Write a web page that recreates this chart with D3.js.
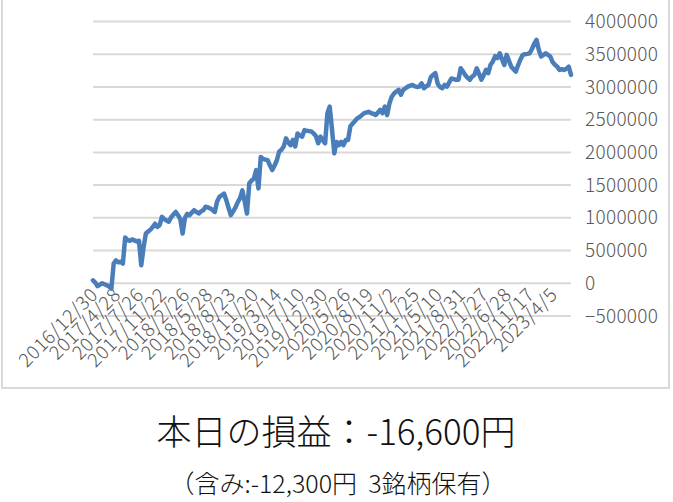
<!DOCTYPE html>
<html><head><meta charset="utf-8">
<script src="https://cdn.jsdelivr.net/npm/d3@7"></script>
<style>
html,body{margin:0;padding:0;background:#fff;}
svg text{font-family:"Noto Sans CJK JP","Noto Sans",sans-serif;white-space:pre;}
</style></head>
<body>
<svg id="c" width="673" height="502"></svg>
<script>
// Cumulative profit (sampled every ~8 trading days), in thousands of yen
const valuesK = [45,10,-45,-20,0,-15,-30,-50,-80,300,350,320,330,300,700,660,650,670,655,
640,650,275,550,760,790,820,860,910,860,890,1015,980,960,940,1010,1050,1090,1040,
980,760,1000,1060,1040,1080,1117,1090,1066,1100,1117,1170,1160,1143,1120,1090,1250,1320,1345,
1370,1270,1150,1040,1100,1160,1240,1300,1420,1250,1066,1525,1570,1600,1730,1450,1930,1900,1890,
1880,1800,1730,1800,1880,2010,2040,2090,2215,2150,2110,2190,2090,2290,2260,2240,2340,2330,2325,
2320,2290,2250,2140,2240,2180,2140,2600,2700,2350,1985,2160,2110,2160,2110,2190,2190,2400,2440,
2480,2520,2540,2570,2600,2610,2620,2600,2590,2570,2610,2650,2600,2700,2570,2750,2850,2900,2930,
2955,2880,2955,2980,3005,3020,3030,3010,3000,3005,3055,2980,3010,3030,3150,3185,3210,3050,3000,
2980,3030,3005,3070,3130,3120,3110,3110,3285,3235,3180,3140,3110,3160,3185,3285,3200,3110,3180,
3260,3210,3340,3390,3470,3440,3515,3420,3335,3490,3400,3310,3270,3235,3335,3420,3490,3500,3505,
3515,3580,3660,3720,3565,3465,3490,3515,3490,3465,3380,3340,
3310,3260,3270,3260,3280,3310,3185];
const values = valuesK.map(v => v * 1000);
const tickLabels = ["2016/12/30","2017/4/28","2017/7/26","2017/11/22","2018/2/26","2018/5/28","2018/8/23","2018/11/20","2019/3/14","2019/7/10","2019/12/30","2020/5/26","2020/8/19","2020/11/2","2021/1/25","2021/5/10","2021/8/31","2022/1/27","2022/6/28","2022/11/17","2023/4/5"];
const tickEvery = 10;
const yTicks = [-500000,0,500000,1000000,1500000,2000000,2500000,3000000,3500000,4000000];
const title = "本日の損益：-16,600円";
const subtitle = "（含み:-12,300円  3銘柄保有）";

const svg = d3.select("#c");
// frame
svg.append("rect").attr("x",2).attr("y",-2).attr("width",667).attr("height",390)
  .attr("fill","none").attr("stroke","#d9d9d9").attr("stroke-width",2);

const x = d3.scaleLinear().domain([0, values.length-1]).range([93, 571]);
const y = d3.scaleLinear().domain([-500000, 4000000]).range([316, 21.5]);

// gridlines
svg.append("g").selectAll("line").data(yTicks).join("line")
  .attr("x1",93).attr("x2",571).attr("y1",d=>y(d)).attr("y2",d=>y(d))
  .attr("stroke","#d9d9d9").attr("stroke-width",2);

// y labels (right side)
const yAxis = d3.axisRight(y).tickValues(yTicks).tickSize(0).tickPadding(0).tickFormat(d3.format("d"));
const ga = svg.append("g").attr("transform","translate(585,0)").call(yAxis);
ga.select(".domain").remove();
ga.selectAll("text").attr("fill","#595959").style("font-size","19px").style("font-weight","300").style("letter-spacing","0.3px");

// x labels
const xt = tickLabels.map((t,i)=>({t, i:i*tickEvery})).filter(d=>d.i < values.length);
svg.append("g").selectAll("text").data(xt).join("text")
  .attr("transform", d=>`translate(${x(d.i)+6},296) rotate(-45)`)
  .attr("text-anchor","end").attr("fill","#595959")
  .style("font-size","19px").style("font-weight","300").style("letter-spacing","0.6px")
  .text(d=>d.t);

// line
const line = d3.line().x((d,i)=>x(i)).y(d=>y(d));
svg.append("path").datum(values).attr("d",line).attr("fill","none")
  .attr("stroke","#4a7ebb").attr("stroke-width",4.5).attr("stroke-linejoin","round").attr("stroke-linecap","round");

// titles
svg.append("text").attr("x",336).attr("y",445).attr("text-anchor","middle")
  .attr("fill","#111").style("font-size","35px").style("font-weight","300").text(title);
svg.append("text").attr("x",338).attr("y",493).attr("text-anchor","middle")
  .attr("fill","#111").style("font-size","25px").style("font-weight","300").text(subtitle);
</script>
</body></html>
